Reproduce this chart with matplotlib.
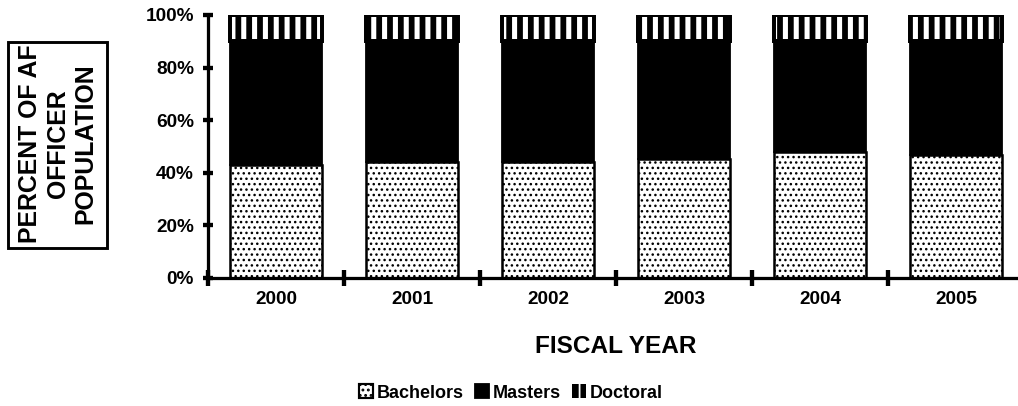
import matplotlib
matplotlib.use('Agg')
from matplotlib import pyplot as plt
from matplotlib.patches import Patch, Rectangle
from matplotlib.transforms import Bbox, TransformedBbox

years = ['2000', '2001', '2002', '2003', '2004', '2005']
bachelors = [43.0, 44.0, 44.0, 45.3, 47.9, 46.8]
doctoral = [10.0, 10.0, 10.0, 10.0, 10.0, 10.0]
masters = [100 - b - d for b, d in zip(bachelors, doctoral)]
yticks = [0, 20, 40, 60, 80, 100]
yticklabels = ['0%', '20%', '40%', '60%', '80%', '100%']

DPI = 130
plt.rcParams['font.family'] = ['Liberation Sans', 'DejaVu Sans']
plt.rcParams['font.weight'] = 'bold'

DOT_LW = 0.8
STRIPE_LW = 2.8


def hatch_lw(patches, lw):
    for p in patches:
        if hasattr(p, 'set_hatch_linewidth'):
            p.set_hatch_linewidth(lw)


fig = plt.figure(figsize=(1018 / DPI, 406 / DPI), dpi=DPI)
ax = fig.add_axes([208 / 1018, 128 / 406, 816 / 1018, 263 / 406])

x = range(len(years))
w = 0.68
with plt.rc_context({'hatch.linewidth': DOT_LW}):
    b1 = ax.bar(x, bachelors, width=w, color='white', edgecolor='black', linewidth=1.4, hatch='....')
hatch_lw(b1, DOT_LW)
ax.bar(x, masters, width=w, bottom=bachelors, color='black', edgecolor='black', linewidth=1.0)
tops = [b + m for b, m in zip(bachelors, masters)]
with plt.rc_context({'hatch.linewidth': STRIPE_LW}):
    b3 = ax.bar(x, doctoral, width=w, bottom=tops, color='black', edgecolor='white', linewidth=0, hatch='||')
hatch_lw(b3, STRIPE_LW)
ax.bar(x, doctoral, width=w, bottom=tops, fill=False, edgecolor='black', linewidth=2.2)

ax.set_xlim(-0.5, 5.5)
ax.set_ylim(0, 100)
ax.set_yticks(yticks)
ax.set_yticklabels(yticklabels)
ax.set_xticks(list(x))
ax.set_xticklabels(years)
ax.set_xticks([i - 0.5 for i in range(len(years) + 1)], minor=True)

for side in ['top', 'right']:
    ax.spines[side].set_visible(False)
for side in ['left', 'bottom']:
    ax.spines[side].set_linewidth(1.8)

ax.tick_params(axis='y', direction='inout', length=5.5, width=2.4, pad=5, labelsize=10.5)
ax.tick_params(axis='x', which='major', length=0, pad=7, labelsize=10.5)
ax.tick_params(axis='x', which='minor', direction='inout', length=8.5, width=2.4)
for lbl in ax.get_xticklabels() + ax.get_yticklabels():
    lbl.set_fontweight('bold')

ax.set_xlabel('FISCAL YEAR', fontsize=13.5, fontweight='bold', labelpad=15)

# boxed y-label, text clipped by the frame
x0, y0, x1, y1 = 8 / 1018, 158 / 406, 107 / 1018, 364 / 406
fig.patches.append(Rectangle((x0, y0), x1 - x0, y1 - y0, transform=fig.transFigure,
                             fill=False, edgecolor='black', linewidth=1.6))
t = fig.text(58 / 1018, (406 - 144) / 406, 'PERCENT OF AF\nOFFICER\nPOPULATION',
             rotation=90, ha='center', va='center', multialignment='center',
             fontsize=13.8, fontweight='bold', linespacing=1.2)
t.set_clip_box(TransformedBbox(Bbox([[x0, y0], [x1, y1]]), fig.transFigure))
t.set_clip_on(True)

with plt.rc_context({'hatch.linewidth': DOT_LW}):
    h1 = Patch(facecolor='white', edgecolor='black', hatch='....', linewidth=1.2, label='Bachelors')
with plt.rc_context({'hatch.linewidth': STRIPE_LW}):
    h3 = Patch(facecolor='black', edgecolor='white', hatch='||', linewidth=0, label='Doctoral')
h2 = Patch(facecolor='black', edgecolor='black', label='Masters')
fig.legend(handles=[h1, h2, h3], loc='center', bbox_to_anchor=(511 / 1018, 13 / 406), ncol=3,
           frameon=False, handlelength=0.8, handleheight=0.8, handletextpad=0.2,
           columnspacing=0.6, prop={'weight': 'bold', 'size': 10})

plt.savefig('out.png', dpi=DPI)
